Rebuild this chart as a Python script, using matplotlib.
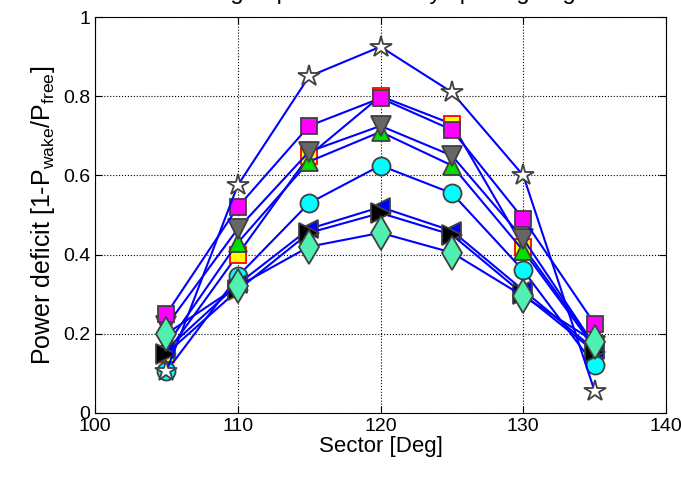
import matplotlib
matplotlib.use("Agg")
import matplotlib.pyplot as plt

plt.rcParams['font.family'] = ['Liberation Sans', 'DejaVu Sans']
plt.rcParams['mathtext.fontset'] = 'custom'
plt.rcParams['mathtext.rm'] = 'Liberation Sans'
plt.rcParams['mathtext.it'] = 'Liberation Sans'

# sectors (deg)
sector = [105, 110, 115, 120, 125, 130, 135]

# power deficit per series
yellow_sq = [0.15, 0.40, 0.65, 0.80, 0.73, 0.42, 0.17]
green_up = [0.17, 0.43, 0.635, 0.71, 0.625, 0.41, 0.165]
gray_down = [0.22, 0.465, 0.66, 0.725, 0.65, 0.44, 0.17]
magenta_sq = [0.25, 0.52, 0.725, 0.795, 0.715, 0.49, 0.225]
cyan_circ = [0.105, 0.345, 0.53, 0.625, 0.555, 0.36, 0.12]
blue_left = [0.16, 0.325, 0.465, 0.52, 0.46, 0.31, 0.16]
black_right = [0.15, 0.31, 0.455, 0.505, 0.45, 0.30, 0.155]
diamond = [0.20, 0.32, 0.42, 0.455, 0.405, 0.295, 0.18]
star = [0.105, 0.575, 0.85, 0.925, 0.81, 0.60, 0.055]

edge = '#404040'
series = [
    (yellow_sq, 's', 'yellow', 'red', 12),
    (green_up, '^', '#00dd00', edge, 13),
    (gray_down, 'v', '#666666', edge, 14),
    (magenta_sq, 's', 'magenta', edge, 12),
    (cyan_circ, 'o', 'cyan', edge, 13),
    (blue_left, '<', 'blue', edge, 13),
    (black_right, '>', 'black', edge, 14),
    (diamond, 'd', '#50f0b0', edge, 17),
    (star, '*', 'white', edge, 16),
]

fig = plt.figure(figsize=(6.81, 4.79), dpi=100)
ax = fig.add_axes([0.1395, 0.1378, 0.8385, 0.8267])

for vals, mk, fc, ec, ms in series:
    ax.plot(sector, vals, '-', color='blue', lw=1.5, marker=mk, ms=ms,
            mfc=fc, mec=ec, mew=1.3)

ax.set_xlim(100, 140)
ax.set_ylim(0, 1)
ax.set_xticks([100, 110, 120, 130, 140])
ax.set_yticks([0, 0.2, 0.4, 0.6, 0.8, 1])
ax.set_yticklabels(['0', '0.2', '0.4', '0.6', '0.8', '1'])
ax.tick_params(direction='in', labelsize=14, length=5, top=True, right=True)
ax.grid(True, linestyle=':', color='black', lw=0.8)
for s in ax.spines.values():
    s.set_color('black')

ax.set_xlabel('Sector [Deg]', fontsize=16, labelpad=1)
ax.set_ylabel(r'Power deficit [1-P$_{\mathrm{wake}}$/P$_{\mathrm{free}}$]',
              fontsize=18, labelpad=4)

# title sits mostly above the visible area
fig.text(0.56, 1.002, 'Averaged power deficit by spacing angle', fontsize=17,
         ha='center', va='baseline')

fig.savefig('out.png', dpi=100)
